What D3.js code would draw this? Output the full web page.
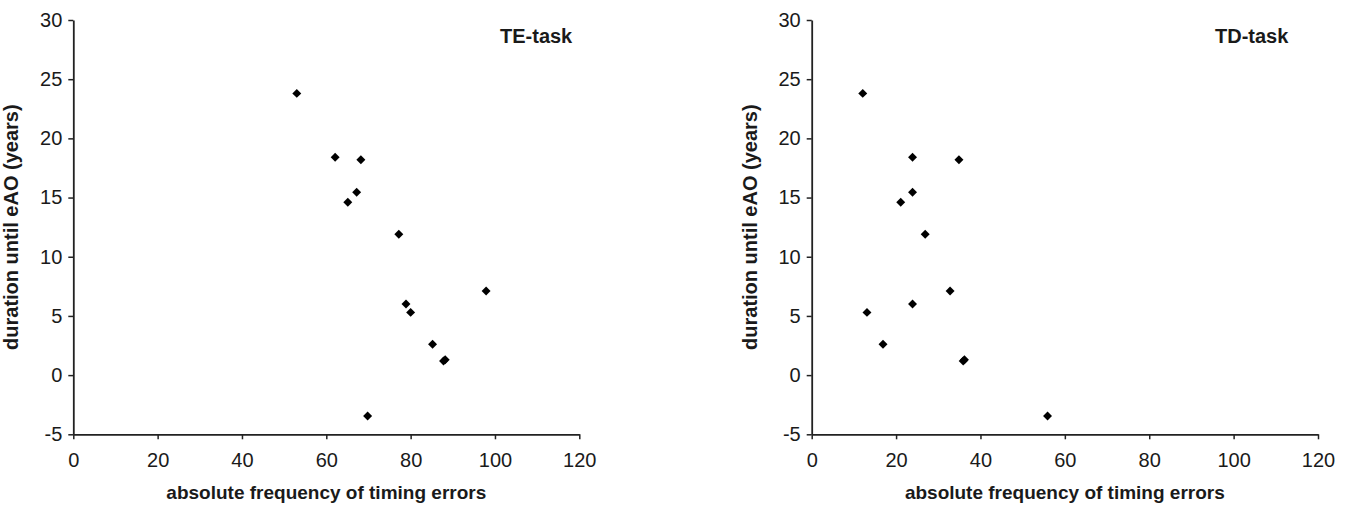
<!DOCTYPE html>
<html>
<head>
<meta charset="utf-8">
<script src="https://cdn.jsdelivr.net/npm/d3@7"></script>
<style>
  html, body { margin: 0; padding: 0; background: #fff; }
  svg { display: block; }
  text { font-family: "Liberation Sans", Arial, sans-serif; fill: #1a1a1a; }
</style>
</head>
<body>
<svg id="chart" width="1345" height="508"></svg>
<script>
// ---- data ----
const duration = [23.8, 18.4, 18.2, 15.45, 14.6, 11.9, 7.1, 6.0, 5.3, 2.6, 1.2, 1.3, -3.45];
const teErrors = [53, 62.1, 68.2, 67.2, 65.1, 77.2, 97.9, 78.9, 80.0, 85.2, 87.8, 88.2, 69.8];
const tdErrors = [12.1, 23.9, 34.9, 23.9, 21.1, 26.9, 32.8, 23.9, 13.1, 16.9, 35.9, 36.2, 55.9];
const xTicks = [0, 20, 40, 60, 80, 100, 120];
const yTicks = [-5, 0, 5, 10, 15, 20, 25, 30];
const panelTitles = ["TE-task", "TD-task"];
const xTitle = "absolute frequency of timing errors";
const yTitle = "duration until eAO (years)";

// ---- layout ----
const svg = d3.select("#chart");
const panels = [
  { x0: 73.3, x1: 579.3, errors: teErrors, title: panelTitles[0], titleX: 500 },
  { x0: 811.7, x1: 1318, errors: tdErrors, title: panelTitles[1], titleX: 1215 }
];
const yTop = 20, yBot = 434.3;
const fmt = d => String(d); // plain hyphen-minus like the original

panels.forEach(p => {
  const x = d3.scaleLinear().domain([0, 120]).range([p.x0, p.x1]);
  const y = d3.scaleLinear().domain([-5, 30]).range([yBot, yTop]);

  const yAxis = svg.append("g")
    .attr("transform", `translate(${p.x0},0)`)
    .call(d3.axisLeft(y).tickValues(yTicks).tickFormat(fmt).tickSize(5).tickPadding(6).tickSizeOuter(0));
  const xAxis = svg.append("g")
    .attr("transform", `translate(0,${yBot})`)
    .call(d3.axisBottom(x).tickValues(xTicks).tickFormat(fmt).tickSize(5).tickPadding(14).tickSizeOuter(0));

  [xAxis, yAxis].forEach(g => {
    g.attr("font-size", null).attr("font-family", null);
    g.select(".domain").attr("stroke", "#222").attr("stroke-width", 1.8);
    g.selectAll(".tick line").attr("stroke", "#222").attr("stroke-width", 1.5);
    g.selectAll(".tick text").attr("fill", "#1a1a1a")
      .style("font-size", "20px").style("font-family", "'Liberation Sans', Arial, sans-serif");
  });

  svg.append("g").selectAll("path")
    .data(p.errors.map((e, i) => [e, duration[i]]))
    .join("path")
    .attr("d", d3.symbol().type(d3.symbolSquare).size(40))
    .attr("transform", d => `translate(${x(d[0])},${y(d[1])}) rotate(45)`)
    .attr("fill", "#000");

  svg.append("text")
    .attr("x", p.titleX).attr("y", 43)
    .style("font-size", "20px").style("font-weight", "bold")
    .text(p.title);

  svg.append("text")
    .attr("x", (p.x0 + p.x1) / 2).attr("y", 499)
    .attr("text-anchor", "middle")
    .style("font-size", "19px").style("font-weight", "bold")
    .text(xTitle);

  const ly = (yTop + yBot) / 2;
  const lx = p.x0 - 55;
  svg.append("text")
    .attr("transform", `translate(${lx},${ly}) rotate(-90)`)
    .attr("text-anchor", "middle")
    .style("font-size", "20px").style("font-weight", "bold")
    .text(yTitle);
});
</script>
</body>
</html>
